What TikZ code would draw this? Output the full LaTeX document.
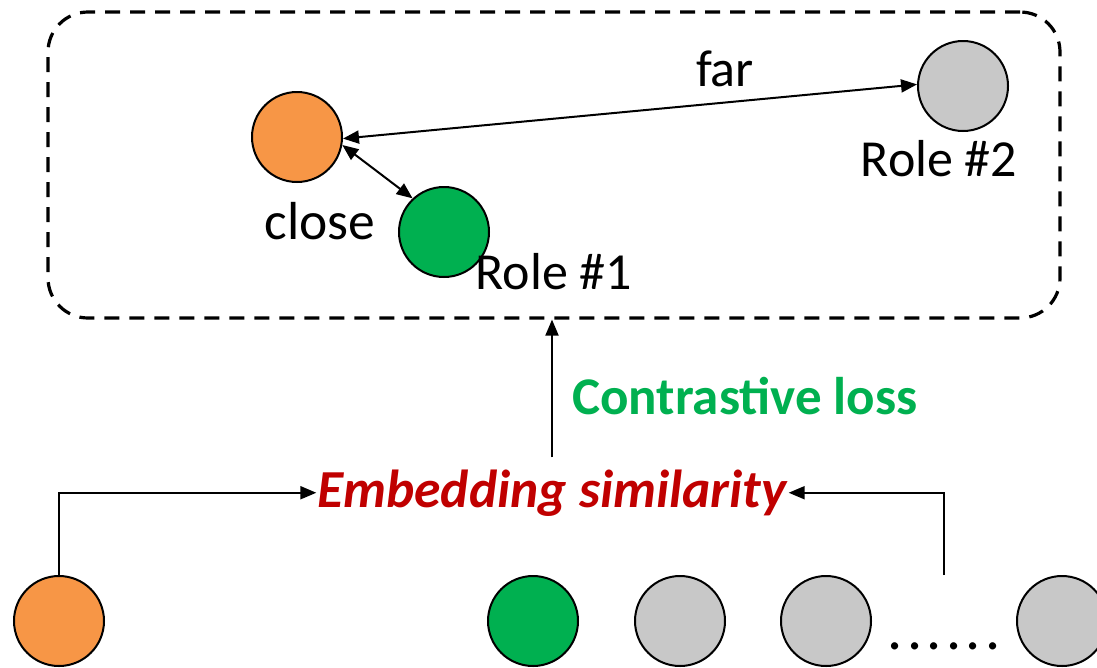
\documentclass[tikz,border=0pt]{standalone}
\usepackage{fontspec}
\setmainfont{Carlito}
\usetikzlibrary{arrows.meta}
\definecolor{corange}{HTML}{F79646}
\definecolor{cgreen}{HTML}{00B050}
\definecolor{cgray}{HTML}{C8C8C8}
\definecolor{cred}{HTML}{C00000}
\tikzset{
  ball/.style={circle, draw=black, line width=2pt, minimum size=90pt, inner sep=0pt},
  lbl/.style={inner sep=0pt, anchor=base, font=\fontsize{52}{60}\selectfont},
  conn/.style={line width=2pt, -{Triangle[length=16pt,width=13pt]}},
  conn2/.style={line width=2pt, {Triangle[length=16pt,width=13pt]}-{Triangle[length=16pt,width=13pt]}},
}
\begin{document}
\begin{tikzpicture}[x=1pt,y=-1pt]
\useasboundingbox (0,0) rectangle (1097,667);
% dashed box
\node[draw, dash pattern=on 15pt off 10pt, line width=3.2pt, rounded corners=40pt,
      minimum width=1012pt, minimum height=306pt, inner sep=0pt] (box) at (554,165) {};
% top circles
\node[ball, fill=corange] (o1) at (297,137) {};
\node[ball, fill=cgreen] (g1) at (444,232) {};
\node[ball, fill=cgray] (r2) at (963,86) {};
\node[lbl, font=\fontsize{53.5}{60}\selectfont] (close) at (320,239) {close};
\node[lbl] (far) at (725,86) {far};
\node[lbl] (role1) at (554,289) {Role \#1};
\node[lbl] (role2) at (939,176) {Role \#2};
\draw[conn2] (o1.-2) -- (r2.178);
\draw[conn2] (o1.-10) -- (g1.133);
% middle
\node[lbl, font=\fontsize{53.5}{60}\selectfont\bfseries\itshape, text=cred] (emb) at (552,507) {Embedding similarity};
\node[lbl, font=\fontsize{53}{60}\selectfont\bfseries, text=cgreen] (cl) at (745,414) {Contrastive loss};
\draw[conn] ([yshift=12pt]emb.north) -- (emb.north |- box.south);
% bottom circles
\node[ball, fill=corange] (ob) at (59,621) {};
\node[ball, fill=cgreen] (gb) at (533,621) {};
\node[ball, fill=cgray] (rb1) at (680,621) {};
\node[ball, fill=cgray] (rb2) at (826,621) {};
\node[ball, fill=cgray] (rb3) at (1062,621) {};
\node[lbl, font=\fontsize{60}{64}\selectfont\addfontfeature{LetterSpace=7.3}] (dots) at (944,649) {......};
\coordinate (rstart) at (944,575);
\draw[conn] (ob.north) |- ([xshift=-1pt]emb.west);
\draw[conn] (rstart) |- ([xshift=2pt]emb.east);
\end{tikzpicture}
\end{document}
